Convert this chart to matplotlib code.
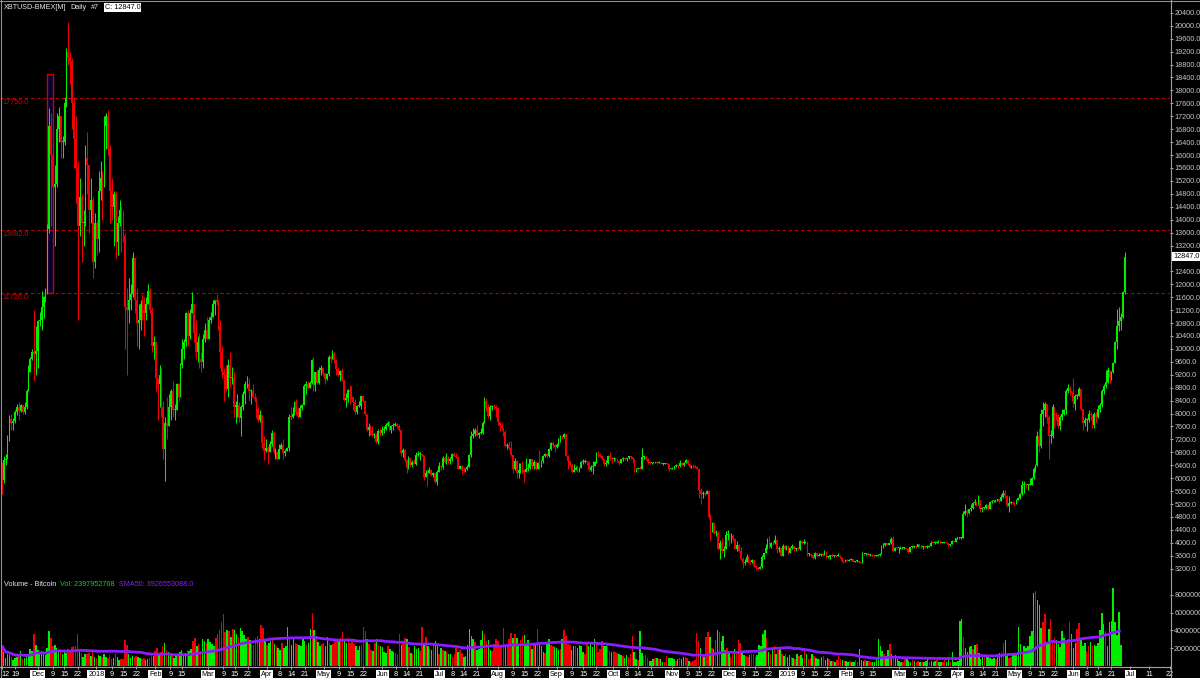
import numpy as np
import pandas as pd
import matplotlib
matplotlib.use("Agg")
import matplotlib.pyplot as plt
from matplotlib.patches import Rectangle
from matplotlib.lines import Line2D

# ---------------- data ----------------
START = "2017-11-12"
FIRST_OPEN = 6350
SMA50_LAST = 3926553088.0   # value printed in the volume header

close = [
    # Nov 2017 (12-30)
    5950, 6560, 6600, 7280, 7820, 7700, 7780, 8040, 8200, 8070, 8250, 8040, 8210, 8700, 9290, 9700, 9900, 9850, 9950,
    # Dec 2017
    10860, 10900, 11300, 11600, 11700, 13700, 16900, 16000, 15000, 15100, 16800, 17200, 16400, 16400, 17600, 19200,
    19000, 18900, 17600, 16500, 15600, 13800, 14700, 13900, 13900, 15900, 15700, 14300, 14600, 12700, 13900,
    # Jan 2018
    13400, 14900, 15300, 15200, 16900, 17200, 16200, 14900, 14400, 14800, 13300, 13900, 14300, 13600, 13500, 11300,
    11200, 11500, 11700, 12800, 11500, 10800, 10900, 11400, 11200, 11100, 11400, 11800, 11200, 10100, 10200,
    # Feb 2018
    9100, 8900, 9200, 8200, 6900, 7700, 7600, 8200, 8700, 8100, 8100, 8900, 8500, 9500, 10000, 10200, 11100, 10400,
    11100, 11400, 10500, 9900, 10200, 9700, 9600, 10300, 10600, 10300,
    # Mar 2018
    10900, 11000, 11400, 11500, 11450, 10700, 9900, 9300, 9200, 8750, 9500, 9100, 9100, 8200, 8250, 8250, 7850, 8200,
    8600, 8900, 8900, 8700, 8700, 8500, 8450, 8150, 7800, 7950, 7100, 6850, 6950,
    # Apr 2018
    6800, 7050, 7400, 6800, 6800, 6600, 6900, 7030, 6770, 6830, 6940, 7900, 7890, 8000, 8350, 8050, 7900, 8170, 8270,
    8850, 8900, 8800, 8940, 9650, 8870, 9280, 8940, 9350, 9400, 9240,
    # May 2018
    9080, 9230, 9750, 9700, 9850, 9650, 9370, 9200, 9320, 9030, 8420, 8480, 8720, 8680, 8500, 8370, 8060, 8240, 8240,
    8530, 8400, 8000, 7500, 7580, 7470, 7350, 7350, 7110, 7470, 7400, 7500,
    # Jun 2018
    7520, 7640, 7720, 7500, 7630, 7650, 7680, 7620, 7500, 6780, 6880, 6550, 6310, 6640, 6400, 6500, 6450, 6720, 6750,
    6760, 6720, 6050, 6170, 6150, 6250, 6100, 6150, 5880, 6200, 6390,
    # Jul 2018
    6350, 6610, 6500, 6600, 6530, 6600, 6750, 6700, 6650, 6300, 6390, 6250, 6220, 6270, 6350, 6730, 7320, 7380, 7480,
    7330, 7400, 7400, 7720, 8400, 8170, 7930, 8190, 8230, 8210, 8170, 7730,
    # Aug 2018
    7620, 7540, 7420, 7010, 7030, 6940, 6720, 6280, 6540, 6150, 6240, 6320, 6250, 6190, 6270, 6310, 6580, 6390, 6490,
    6270, 6480, 6360, 6530, 6690, 6740, 6700, 6910, 7090, 7040, 6980, 7030,
    # Sep 2018
    7190, 7280, 7260, 7360, 6700, 6520, 6410, 6190, 6240, 6320, 6280, 6330, 6490, 6490, 6520, 6500, 6250, 6350, 6390,
    6490, 6770, 6720, 6700, 6590, 6440, 6460, 6690, 6640, 6600, 6630,
    # Oct 2018
    6590, 6530, 6480, 6580, 6630, 6590, 6620, 6680, 6650, 6590, 6260, 6300, 6310, 6300, 6650, 6650, 6600, 6500, 6460,
    6470, 6480, 6490, 6480, 6480, 6450, 6450, 6460, 6450, 6300, 6300, 6330,
    # Nov 2018
    6370, 6400, 6370, 6480, 6410, 6480, 6550, 6440, 6340, 6380, 6370, 6350, 6300, 5640, 5500, 5530, 5520, 5600, 4800,
    4450, 4600, 4300, 4300, 3800, 4000, 3750, 3820, 4250, 4250, 3990,
    # Dec 2018
    4200, 4130, 3820, 3930, 3760, 3500, 3380, 3420, 3560, 3450, 3400, 3470, 3270, 3220, 3200, 3250, 3550, 3680, 3830,
    4130, 3880, 4000, 3980, 4100, 3800, 3830, 3600, 3900, 3800, 3900, 3700,
    # Jan 2019
    3850, 3900, 3800, 3820, 3800, 4050, 4000, 4000, 4020, 3650, 3650, 3620, 3520, 3680, 3590, 3630, 3660, 3620, 3720,
    3560, 3570, 3620, 3580, 3610, 3600, 3600, 3560, 3450, 3410, 3470, 3450,
    # Feb 2019
    3480, 3510, 3420, 3430, 3440, 3400, 3390, 3650, 3650, 3690, 3620, 3620, 3600, 3580, 3600, 3620, 3670, 3890, 3930,
    3990, 3940, 3990, 4130, 3750, 3850, 3830, 3830, 3830,
    # Mar 2019
    3850, 3850, 3820, 3730, 3860, 3870, 3880, 3870, 3950, 3930, 3860, 3880, 3870, 3870, 3910, 4010, 3990, 4000, 4030,
    4060, 3990, 4000, 4010, 3990, 3930, 3950, 4060, 4040, 4140, 4140, 4140,
    # Apr 2019
    4160, 4900, 4970, 4910, 5040, 5080, 5220, 5260, 5180, 5330, 5050, 5090, 5090, 5180, 5050, 5250, 5290, 5300, 5300,
    5350, 5300, 5420, 5550, 5450, 5150, 5230, 5250, 5230, 5200, 5340,
    # May 2019
    5380, 5500, 5800, 5830, 5780, 5800, 5800, 6000, 6300, 6400, 7300, 7000, 8000, 8100, 8300, 7900, 7300, 7300, 8200,
    8000, 7950, 7600, 7900, 8000, 8100, 8700, 8800, 8700, 8650, 8300, 8550,
    # Jun 2019 (1-26)
    8550, 8750, 8150, 7700, 7800, 7800, 8000, 7950, 7650, 8000, 7900, 8150, 8250, 8700, 8850, 8980, 9350, 9100, 9300,
    9550, 10200, 10700, 10850, 11000, 11750, 12847,
]

high = [
    6500, 6700, 6750, 7330, 7950, 8000, 7850, 8100, 8300, 8370, 8300, 8260, 8350, 8750, 9500, 9750, 10000, 11200, 10700,
    10900, 11150, 11800, 11650, 11900, 13850, 17450, 17300, 16300, 15700, 17300, 17500, 17200, 16600, 17800, 19300,
    20100, 19200, 19000, 17800, 17200, 15800, 15300, 14800, 14300, 16300, 16700, 15600, 15300, 14700, 14200,
    14000, 15500, 15800, 15500, 17200, 17300, 17400, 16300, 15300, 14900, 14900, 14100, 14600, 14400, 14300, 13600,
    11900, 12200, 12000, 13000, 12800, 11900, 11400, 11500, 11700, 11600, 11600, 12000, 11900, 11300, 10400,
    10200, 9100, 9500, 9400, 8400, 7900, 8500, 8600, 8750, 9000, 8300, 8950, 8950, 9550, 10300, 10300, 11150, 11200,
    11250, 11750, 11300, 10900, 10400, 10500, 9900, 10450, 10800, 11000,
    11000, 11150, 11500, 11500, 11700, 11500, 10900, 10100, 9400, 9500, 9700, 9900, 9450, 9300, 8400, 8600, 8350, 8250,
    8700, 9000, 9150, 9100, 8750, 8900, 8650, 8500, 8200, 8100, 7950, 7300, 7200,
    7000, 7150, 7500, 7450, 6950, 6850, 7050, 7100, 7200, 6900, 6980, 8000, 8200, 8200, 8400, 8450, 8200, 8250, 8300,
    8900, 9000, 9000, 9000, 9700, 9750, 9300, 9350, 9450, 9500, 9450,
    9250, 9270, 9800, 9800, 9980, 9900, 9670, 9450, 9350, 9400, 9050, 8650, 8750, 8880, 8840, 8500, 8450, 8270, 8400,
    8550, 8570, 8420, 8000, 7700, 7650, 7600, 7400, 7400, 7520, 7550, 7600,
    7600, 7700, 7780, 7760, 7650, 7700, 7750, 7700, 7680, 7500, 6920, 6900, 6600, 6700, 6650, 6550, 6580, 6800, 6830,
    6800, 6790, 6720, 6250, 6250, 6350, 6300, 6190, 6160, 6250, 6500,
    6400, 6680, 6680, 6780, 6700, 6650, 6780, 6800, 6770, 6680, 6400, 6400, 6350, 6320, 6400, 6750, 7450, 7550, 7550,
    7650, 7420, 7560, 7780, 8500, 8480, 8300, 8280, 8250, 8300, 8250, 8180,
    7750, 7720, 7550, 7500, 7080, 7150, 7150, 6730, 6620, 6560, 6480, 6460, 6540, 6270, 6620, 6480, 6600, 6600, 6550,
    6500, 6500, 6880, 6550, 6720, 6780, 6770, 6950, 7120, 7140, 7050, 7080,
    7250, 7330, 7340, 7400, 7380, 6720, 6530, 6480, 6430, 6380, 6400, 6350, 6530, 6580, 6580, 6530, 6520, 6410, 6520,
    6530, 6800, 6850, 6780, 6720, 6590, 6550, 6730, 6800, 6650, 6650,
    6640, 6620, 6550, 6600, 6650, 6640, 6640, 6700, 6690, 6660, 6590, 6330, 6330, 6380, 6950, 6700, 6680, 6620, 6520,
    6490, 6510, 6510, 6500, 6520, 6490, 6470, 6480, 6480, 6460, 6330, 6360,
    6390, 6430, 6410, 6550, 6490, 6490, 6580, 6560, 6450, 6400, 6400, 6400, 6380, 6330, 5700, 5600, 5560, 5650, 5620,
    4900, 4650, 4620, 4400, 4380, 4100, 4150, 3900, 4370, 4400, 4300,
    4300, 4280, 4150, 4050, 3960, 3860, 3550, 3510, 3650, 3600, 3480, 3510, 3480, 3290, 3250, 3270, 3620, 3700, 3950,
    4150, 4220, 4020, 4050, 4250, 4100, 3900, 3850, 3950, 3930, 3930, 3900,
    3870, 3950, 3900, 3840, 3880, 4090, 4070, 4120, 4060, 4040, 3700, 3660, 3630, 3720, 3690, 3680, 3680, 3680, 3790,
    3740, 3590, 3630, 3640, 3630, 3620, 3680, 3610, 3570, 3460, 3490, 3490,
    3500, 3520, 3510, 3450, 3460, 3450, 3410, 3720, 3670, 3700, 3690, 3650, 3650, 3610, 3630, 3660, 3700, 3930, 4000,
    4000, 4010, 4000, 4170, 4200, 3880, 3860, 3860, 3900,
    3880, 3860, 3850, 3830, 3880, 3890, 3900, 3930, 3960, 3950, 3940, 3890, 3890, 3920, 3930, 4070, 4010, 4050, 4050,
    4080, 4080, 4020, 4030, 4020, 4000, 3960, 4080, 4060, 4160, 4180, 4150,
    4180, 5000, 5200, 5050, 5060, 5200, 5270, 5350, 5270, 5470, 5340, 5110, 5120, 5200, 5200, 5260, 5330, 5340, 5340,
    5370, 5350, 5500, 5650, 5620, 5480, 5450, 5300, 5280, 5260, 5360,
    5420, 5550, 5900, 5900, 5850, 5820, 6000, 6050, 6350, 6450, 7450, 7550, 8150, 8350, 8350, 8300, 7950, 7500, 8300,
    8200, 8050, 8000, 7950, 8150, 8150, 8750, 8900, 8850, 8700, 9100, 8600,
    8620, 8820, 8770, 8150, 7900, 7850, 8100, 8050, 7970, 8050, 8050, 8250, 8330, 8750, 8900, 9350, 9450, 9350, 9320,
    9600, 10250, 11250, 11300, 11100, 11800, 13000,
]

low = [
    5500, 5850, 6400, 6600, 7150, 7500, 7500, 7700, 7950, 7800, 8050, 8000, 8000, 8150, 8700, 9300, 9650, 9000, 9200,
    9400, 10700, 10600, 10950, 11450, 11700, 13600, 13800, 13700, 13200, 15000, 16400, 15900, 15900, 16300, 17500,
    18800, 18200, 16800, 15600, 14500, 10900, 13500, 12700, 13200, 13800, 14800, 13600, 13900, 12200, 12500,
    12900, 13000, 14600, 14000, 15000, 16200, 16000, 13900, 14000, 13200, 12800, 12900, 13800, 13000, 13300, 10000,
    9200, 10800, 11200, 11600, 11100, 10100, 10000, 10600, 10900, 10400, 10900, 11400, 11100, 9900, 9700,
    8700, 7800, 8200, 7900, 6600, 5900, 7200, 7600, 7800, 7900, 7800, 8100, 8400, 8500, 9400, 9700, 10100, 10100,
    10300, 11100, 10200, 9700, 9600, 9400, 9300, 9400, 10200, 10300,
    10300, 10800, 11000, 11050, 11350, 10600, 9400, 9100, 8400, 8700, 8500, 8800, 8900, 7900, 7700, 7900, 7750, 7300,
    8100, 8300, 8800, 8400, 8300, 8500, 8350, 7850, 7750, 7750, 6950, 6550, 6800,
    6450, 6800, 7000, 6750, 6600, 6550, 6600, 6900, 6600, 6700, 6830, 6850, 7800, 7850, 7950, 7950, 7850, 7900, 8100,
    8250, 8600, 8750, 8800, 8900, 8700, 8700, 8900, 8900, 9200, 9150,
    8900, 9050, 9150, 9550, 9700, 9550, 9200, 9150, 9000, 9000, 8400, 8200, 8350, 8300, 8450, 8100, 8000, 8000, 8200,
    8150, 8350, 7950, 7450, 7300, 7350, 7300, 7250, 7080, 7050, 7300, 7350,
    7400, 7480, 7600, 7450, 7400, 7500, 7600, 7550, 7450, 6700, 6650, 6500, 6150, 6270, 6350, 6350, 6430, 6400, 6700,
    6560, 6680, 5950, 6050, 5750, 6150, 6080, 6050, 5850, 5800, 6200,
    6250, 6280, 6480, 6450, 6450, 6450, 6530, 6700, 6620, 6280, 6300, 6120, 6180, 6200, 6250, 6350, 6650, 7250, 7300,
    7300, 7250, 7380, 7380, 7700, 8070, 7850, 7800, 8100, 8150, 7880, 7650,
    7450, 7480, 7300, 6960, 6900, 6860, 6680, 6150, 6250, 6020, 6000, 6150, 6160, 5880, 6180, 6220, 6280, 6300, 6300,
    6250, 6270, 6300, 6360, 6480, 6670, 6610, 6660, 6880, 6960, 6800, 6920,
    7010, 7130, 7200, 7230, 6680, 6300, 6380, 6150, 6180, 6240, 6200, 6200, 6320, 6450, 6480, 6400, 6220, 6220, 6130,
    6370, 6480, 6660, 6660, 6560, 6380, 6390, 6440, 6550, 6480, 6540,
    6540, 6490, 6420, 6470, 6540, 6550, 6530, 6600, 6600, 6480, 6200, 6200, 6280, 6280, 6280, 6600, 6560, 6450, 6440,
    6440, 6460, 6460, 6450, 6460, 6440, 6420, 6440, 6440, 6230, 6280, 6280,
    6300, 6340, 6330, 6350, 6390, 6390, 6470, 6420, 6320, 6330, 6320, 6330, 6270, 5400, 5200, 5380, 5440, 5500, 4740,
    4050, 4350, 4280, 4200, 3780, 3500, 3700, 3550, 3800, 4100, 3900,
    3980, 4070, 3800, 3740, 3730, 3480, 3220, 3320, 3400, 3380, 3360, 3380, 3240, 3150, 3150, 3190, 3230, 3490, 3680,
    3820, 3850, 3850, 3920, 3960, 3700, 3720, 3580, 3580, 3780, 3780, 3650,
    3680, 3820, 3760, 3750, 3780, 3780, 3970, 3950, 3980, 3580, 3580, 3570, 3500, 3510, 3570, 3580, 3580, 3590, 3610,
    3520, 3530, 3500, 3560, 3560, 3570, 3580, 3540, 3420, 3380, 3400, 3440,
    3440, 3470, 3400, 3410, 3420, 3380, 3380, 3380, 3630, 3620, 3600, 3590, 3590, 3560, 3580, 3600, 3600, 3660, 3850,
    3900, 3920, 3930, 3960, 3720, 3740, 3800, 3700, 3810,
    3820, 3820, 3800, 3700, 3720, 3830, 3850, 3830, 3860, 3900, 3840, 3820, 3850, 3830, 3860, 3900, 3960, 3970, 3990,
    4010, 3950, 3980, 3990, 3980, 3900, 3910, 3950, 4020, 4030, 4120, 4120,
    4120, 4160, 4850, 4800, 4900, 4980, 5060, 5180, 5150, 5170, 4960, 4950, 5050, 5050, 5020, 5050, 5230, 5270, 5250,
    5290, 5240, 5290, 5400, 5400, 5100, 4950, 5200, 5200, 5130, 5190,
    5330, 5370, 5480, 5550, 5700, 5650, 5780, 5780, 5980, 6200, 6380, 6800, 6950, 7600, 7900, 7700, 6600, 7100, 7250,
    7550, 7800, 7550, 7500, 7800, 7950, 8000, 8650, 8580, 8400, 8200, 8100,
    8450, 8540, 8100, 7500, 7600, 7450, 7750, 7800, 7550, 7550, 7700, 7850, 8050, 8200, 8600, 8800, 8950, 8950, 9050,
    9250, 9550, 10000, 10550, 10600, 10950, 11700,
]

# daily volume, billions
volume_bn = [
    2.3, 1.6, 0.9, 1.4, 1.2, 1.0, 0.7, 0.9, 1.0, 1.1, 1.7, 0.8, 0.9, 1.2, 1.3, 1.9, 1.7, 3.6, 2.4,
    1.8, 1.4, 1.7, 1.3, 1.2, 2.0, 3.9, 3.2, 2.2, 2.4, 2.0, 1.7, 1.9, 1.3, 1.6, 1.5, 1.9, 1.7, 2.1, 2.2,
    2.3, 3.6, 1.8, 1.5, 1.0, 1.4, 1.3, 1.5, 1.1, 1.6, 1.0,
    0.9, 1.2, 1.1, 1.0, 1.4, 1.0, 0.9, 1.2, 0.8, 0.9, 1.3, 1.0, 0.7, 0.8, 0.8, 2.9, 2.4, 1.3, 0.9, 1.1,
    1.0, 1.1, 1.0, 0.9, 0.8, 0.9, 0.7, 0.8, 0.9, 1.2, 1.1,
    1.7, 2.0, 1.3, 1.6, 2.3, 2.6, 1.8, 1.6, 1.4, 1.2, 0.9, 1.3, 1.1, 1.6, 1.8, 1.3, 1.5, 1.8, 1.7, 1.9,
    2.8, 3.1, 2.2, 2.5, 1.7, 3.0, 2.8, 2.6,
    3.0, 2.7, 2.5, 2.3, 3.1, 3.6, 4.1, 5.0, 5.8, 3.8, 4.0, 3.9, 3.3, 4.2, 4.0, 3.6, 3.3, 4.3, 3.9, 3.5,
    3.0, 3.3, 2.9, 2.5, 2.4, 3.2, 3.4, 3.0, 4.6, 4.3, 2.8,
    2.4, 2.6, 2.8, 3.0, 2.5, 2.3, 2.0, 1.8, 2.6, 2.0, 2.2, 4.4, 3.0, 2.4, 3.0, 2.6, 2.5, 2.4, 2.3, 3.3,
    2.8, 2.4, 2.6, 4.2, 6.0, 4.0, 3.4, 2.7, 2.3, 2.5,
    2.6, 2.2, 3.3, 2.6, 2.4, 2.5, 2.9, 3.0, 2.8, 3.2, 3.8, 3.0, 2.6, 3.1, 2.6, 2.9, 2.5, 2.2, 1.8, 2.2,
    2.4, 4.4, 3.9, 3.0, 2.5, 1.8, 1.7, 2.6, 3.0, 2.4, 2.3,
    2.1, 1.6, 1.5, 2.2, 1.9, 1.7, 1.6, 1.5, 1.4, 3.6, 2.4, 2.8, 3.2, 3.0, 2.1, 1.5, 1.4, 2.2, 1.9, 2.0,
    1.7, 4.4, 2.6, 3.3, 2.3, 1.9, 1.8, 2.5, 2.8, 2.2,
    1.4, 2.0, 1.8, 1.7, 1.6, 1.4, 1.3, 1.0, 1.3, 2.1, 1.6, 1.8, 1.5, 1.0, 1.1, 2.4, 4.2, 3.4, 3.0, 2.7,
    1.8, 1.9, 2.9, 3.9, 3.6, 2.8, 2.9, 1.8, 1.7, 2.5, 3.0,
    2.8, 2.3, 2.4, 4.3, 2.2, 2.5, 3.0, 3.7, 3.1, 3.6, 3.2, 2.3, 2.9, 3.4, 3.5, 2.6, 2.9, 2.2, 1.9, 2.6,
    2.5, 4.2, 2.4, 2.3, 1.6, 1.5, 2.7, 3.0, 2.4, 2.2, 2.1,
    2.0, 1.8, 1.9, 3.0, 4.0, 3.4, 2.5, 2.4, 1.8, 2.2, 2.3, 2.0, 2.4, 2.3, 1.6, 1.4, 2.5, 2.3, 2.6, 2.1,
    3.0, 2.5, 1.6, 1.9, 2.8, 2.2, 2.3, 2.6, 1.7, 1.6,
    1.7, 1.6, 1.5, 1.4, 1.2, 1.1, 0.9, 1.2, 1.0, 1.3, 3.4, 1.6, 0.8, 0.7, 3.9, 1.5, 1.1, 1.2, 0.9, 0.6,
    0.6, 0.8, 0.9, 0.9, 0.8, 0.8, 0.5, 0.5, 1.1, 0.9, 0.9,
    0.9, 0.8, 0.6, 0.8, 0.9, 0.8, 1.0, 1.0, 0.9, 0.6, 0.5, 0.6, 0.7, 3.7, 2.8, 2.0, 1.2, 1.0, 3.3, 3.8,
    3.3, 2.0, 1.9, 2.9, 4.0, 3.8, 2.8, 3.4, 1.8, 2.0,
    1.6, 1.0, 1.7, 1.9, 1.5, 2.9, 2.6, 1.6, 1.2, 1.1, 1.0, 1.2, 1.4, 1.3, 1.0, 1.2, 2.4, 2.3, 3.6, 4.0,
    3.2, 1.6, 1.3, 2.1, 2.2, 1.4, 1.8, 2.0, 1.4, 1.1, 1.3,
    1.0, 1.2, 1.0, 0.9, 0.8, 1.3, 1.1, 1.2, 0.9, 2.0, 1.3, 0.8, 0.9, 1.4, 1.1, 0.9, 0.8, 0.8, 1.0, 1.1,
    0.7, 0.9, 0.8, 0.6, 0.6, 0.5, 0.7, 1.1, 0.8, 0.7, 0.6,
    0.6, 0.5, 0.6, 0.5, 0.5, 0.7, 0.5, 1.9, 0.7, 0.6, 0.7, 0.6, 0.6, 0.5, 0.5, 0.5, 0.8, 3.0, 2.2, 1.7,
    1.3, 1.1, 1.8, 2.5, 1.3, 0.8, 1.2, 0.8,
    0.6, 0.5, 0.5, 1.0, 0.9, 0.6, 0.5, 0.7, 0.6, 0.5, 0.6, 0.5, 0.4, 0.5, 0.6, 0.8, 0.5, 0.6, 0.5, 0.6,
    0.7, 0.5, 0.4, 0.4, 0.7, 0.5, 0.8, 0.5, 1.6, 0.5, 0.4,
    0.6, 5.1, 5.3, 3.3, 2.0, 1.6, 2.1, 2.2, 1.9, 2.4, 2.5, 1.5, 0.8, 1.1, 1.3, 1.2, 1.0, 0.9, 0.8, 0.9,
    0.8, 1.3, 1.5, 1.6, 2.6, 2.9, 1.3, 0.9, 1.0, 1.2,
    1.2, 1.5, 4.4, 2.5, 1.5, 2.2, 2.0, 2.3, 3.4, 3.9, 8.2, 8.4, 7.4, 6.9, 4.3, 5.0, 5.8, 2.6, 4.2, 5.3,
    2.6, 3.2, 2.9, 2.5, 2.1, 3.9, 3.1, 2.6, 3.0, 5.0, 3.6,
    2.0, 2.6, 4.2, 4.8, 2.9, 2.2, 2.6, 1.7, 2.3, 2.7, 2.2, 2.4, 2.2, 2.6, 4.0, 6.0, 4.7, 3.9, 2.2, 5.0,
    5.1, 8.8, 5.0, 3.5, 6.1, 2.397952768,
]

level_lines = [17750.0, 13682.0, 11726.0]
vol_tick_values = [2e9, 4e9, 6e9, 8e9]
vol_tick_labels = ["2000000", "4000000", "6000000", "8000000"]   # as much as the panel shows

xtick_dates = ["2017-11-12", "2017-11-19", "2017-12-01", "2017-12-09", "2017-12-15", "2017-12-22",
               "2018-01-01", "2018-01-09", "2018-01-15", "2018-01-22", "2018-02-01", "2018-02-09", "2018-02-15",
               "2018-03-01", "2018-03-09", "2018-03-15", "2018-03-22", "2018-04-01", "2018-04-08", "2018-04-14",
               "2018-04-21", "2018-05-01", "2018-05-09", "2018-05-15", "2018-05-22", "2018-06-01", "2018-06-08",
               "2018-06-14", "2018-06-21", "2018-07-01", "2018-07-08", "2018-07-14", "2018-07-21", "2018-08-01",
               "2018-08-09", "2018-08-15", "2018-08-22", "2018-09-01", "2018-09-09", "2018-09-15", "2018-09-22",
               "2018-10-01", "2018-10-08", "2018-10-14", "2018-10-21", "2018-11-01", "2018-11-09", "2018-11-15",
               "2018-11-22", "2018-12-01", "2018-12-09", "2018-12-15", "2018-12-22", "2019-01-01", "2019-01-09",
               "2019-01-15", "2019-01-22", "2019-02-01", "2019-02-09", "2019-02-15", "2019-03-01", "2019-03-09",
               "2019-03-15", "2019-03-22", "2019-04-01", "2019-04-08", "2019-04-14", "2019-04-21", "2019-05-01",
               "2019-05-09", "2019-05-15", "2019-05-22", "2019-06-01", "2019-06-08", "2019-06-14", "2019-06-21",
               "2019-07-01", "2019-07-11", "2019-07-22"]
xtick_labels = ["12", "19", "Dec", "9", "15", "22", "2018", "9", "15", "22", "Feb", "9", "15",
                "Mar", "9", "15", "22", "Apr", "8", "14", "21", "May", "9", "15", "22", "Jun", "8", "14", "21",
                "Jul", "8", "14", "21", "Aug", "9", "15", "22", "Sep", "9", "15", "22", "Oct", "8", "14", "21",
                "Nov", "9", "15", "22", "Dec", "9", "15", "22", "2019", "9", "15", "22", "Feb", "9", "15",
                "Mar", "9", "15", "22", "Apr", "8", "14", "21", "May", "9", "15", "22", "Jun", "8", "14", "21",
                "Jul", "11", "22"]

# highlighted (selected) box drawn on the chart
HILITE_FROM, HILITE_TO = 23.6, 26.8     # day offsets
HILITE_LO, HILITE_HI = 11726.0, 18500.0

# ---------------- derived ----------------
c = np.array(close, float)
h = np.array(high, float)
l = np.array(low, float)
v = np.array(volume_bn, float) * 1e9
n = len(c)
assert len(h) == n and len(l) == n and len(v) == n, (n, len(h), len(l), len(v))
o = np.concatenate([[FIRST_OPEN], c[:-1]])
d = np.arange(n)
up = c >= o
GREEN, RED = "#00ee00", "#f00000"
cols = [GREEN if u else RED for u in up]
h = np.maximum(h, np.maximum(o, c))
l = np.minimum(l, np.minimum(o, c))

start = pd.Timestamp(START)
tick_pos = [(pd.Timestamp(s) - start).days for s in xtick_dates]

W, H = 1200, 678
fig = plt.figure(figsize=(W / 100, H / 100), dpi=100, facecolor="black")

def px_rect(x0, y0, x1, y1):
    return [x0 / W, 1 - y1 / H, (x1 - x0) / W, (y1 - y0) / H]

X_RIGHT = 1170
xlim = (-1.8 / 1.9, (X_RIGHT - 1.8) / 1.9)   # day index -> pixel x = 1.8 + 1.9*d

FONT = "Liberation Sans"
FS = 5.2
GREY = "#c8c8c8"

# ---------- price panel ----------
ax = fig.add_axes(px_rect(0, 3, X_RIGHT, 578))
ax.set_facecolor("black")
ax.set_xlim(*xlim)
ax.set_ylim(20400 - (578 - 12.8) / 0.03232, 20400 + (12.8 - 3) / 0.03232)
for s in ax.spines.values():
    s.set_visible(False)

ax.add_patch(Rectangle((HILITE_FROM, HILITE_LO), HILITE_TO - HILITE_FROM, HILITE_HI - HILITE_LO,
                       facecolor="#00003a", edgecolor="#d00000", lw=1.0, zorder=1))

ax.vlines(d, l, h, colors=cols, lw=0.75, zorder=3)
body_lo = np.minimum(o, c)
body_h = np.maximum(np.abs(c - o), 30)
ax.bar(d, body_h, bottom=body_lo, width=0.85, color=cols, linewidth=0, zorder=3)

for lv in level_lines:
    ax.axhline(lv, color="#c00000", lw=0.8, ls=(0, (3, 2.5)), zorder=2)
    ax.annotate(f"{lv:.1f}", xy=(0, lv), xycoords=("axes fraction", "data"), xytext=(2, -1),
                textcoords="offset pixels", ha="left", va="top", color="#d80000",
                fontsize=FS, family=FONT)

last = c[-1]
pticks = [t for t in range(3200, 20401, 400) if abs(t - last) > 250]
ax.yaxis.tick_right()
ax.set_yticks(pticks)
ax.set_yticklabels([f"{t:.1f}" for t in pticks])
ax.tick_params(axis="y", colors=GREY, length=2, width=0.6, pad=1.5, labelsize=FS, labelcolor=GREY)
for t in ax.get_yticklabels():
    t.set_family(FONT)
ax.set_xticks([])
ax.annotate(f"{last:.1f}", xy=(1, last), xycoords=("axes fraction", "data"), xytext=(3, 0),
            textcoords="offset pixels", ha="left", va="center", color="black", fontsize=FS, family=FONT,
            bbox=dict(boxstyle="square,pad=0.15", facecolor="white", edgecolor="none"))

# ---------- volume panel ----------
VOL_TOP, VOL_BASE = 585, 666
axv = fig.add_axes(px_rect(0, VOL_TOP, X_RIGHT, VOL_BASE))
axv.set_facecolor("black")
axv.set_xlim(*xlim)
axv.set_ylim(0, (VOL_BASE - VOL_TOP) / 8.9 * 1e9)
for s in axv.spines.values():
    s.set_visible(False)
axv.bar(d, v, width=0.8, color=cols, linewidth=0, zorder=2)
sma = pd.Series(v).rolling(50, min_periods=1).mean()
axv.plot(d, sma, color="#8a1cff", lw=2.0, zorder=3, solid_capstyle="butt")

axv.yaxis.tick_right()
axv.set_yticks(vol_tick_values)
axv.set_yticklabels(vol_tick_labels)
axv.tick_params(axis="y", colors=GREY, length=2, width=0.6, pad=1.0, labelsize=FS, labelcolor=GREY)
for t in axv.get_yticklabels():
    t.set_family(FONT)

axv.set_xticks(tick_pos)
axv.set_xticklabels(xtick_labels)
axv.tick_params(axis="x", colors=GREY, length=2, width=0.6, pad=1.5, labelsize=FS, labelcolor="white")
for i, t in enumerate(axv.get_xticklabels()):
    t.set_family(FONT)
    if i == 0:
        t.set_horizontalalignment("left")
    if not t.get_text().isdigit() or len(t.get_text()) == 4:
        t.set_color("black")
        t.set_bbox(dict(boxstyle="square,pad=0.12", facecolor="white", edgecolor="none"))

# ---------- frame lines ----------
def fig_line(x0, y0, x1, y1, color="#a0a0a0", lw=0.8):
    fig.add_artist(Line2D([x0 / W, x1 / W], [1 - y0 / H, 1 - y1 / H], color=color, lw=lw,
                          transform=fig.transFigure))

fig_line(0, 0.5, W, 0.5, color="#909090")
fig_line(1.0, 0, 1.0, H, color="#909090")
fig_line(X_RIGHT + 0.5, 0, X_RIGHT + 0.5, H)
fig_line(0, VOL_BASE + 0.5, X_RIGHT, VOL_BASE + 0.5)

# ---------- header texts laid out left to right ----------
renderer = fig.canvas.get_renderer()

def text_row(y_px, items, x_px=4, gap=4):
    for s, color, boxed in items:
        kw = {}
        if boxed:
            kw["bbox"] = dict(boxstyle="square,pad=0.15", facecolor="white", edgecolor="none")
            x_px += 2
        t = fig.text(x_px / W, 1 - y_px / H, s, color=color, fontsize=FS, family=FONT,
                     ha="left", va="center", **kw)
        bb = t.get_window_extent(renderer)
        x_px += bb.width + gap + (2 if boxed else 0)

text_row(7.5, [("XBTUSD-BMEX[M]", "#e6e6e6", False), ("Daily", "#e6e6e6", False),
               ("#7", "#e6e6e6", False), (f"C: {last:.1f}", "black", True)])
text_row(584, [("Volume - Bitcoin", "#e6e6e6", False), (f"Vol: {int(round(v[-1]))}", "#00e000", False),
               (f"SMA50: {SMA50_LAST:.1f}", "#8a1cff", False)])

fig.savefig("out.png", dpi=100, facecolor="black")
